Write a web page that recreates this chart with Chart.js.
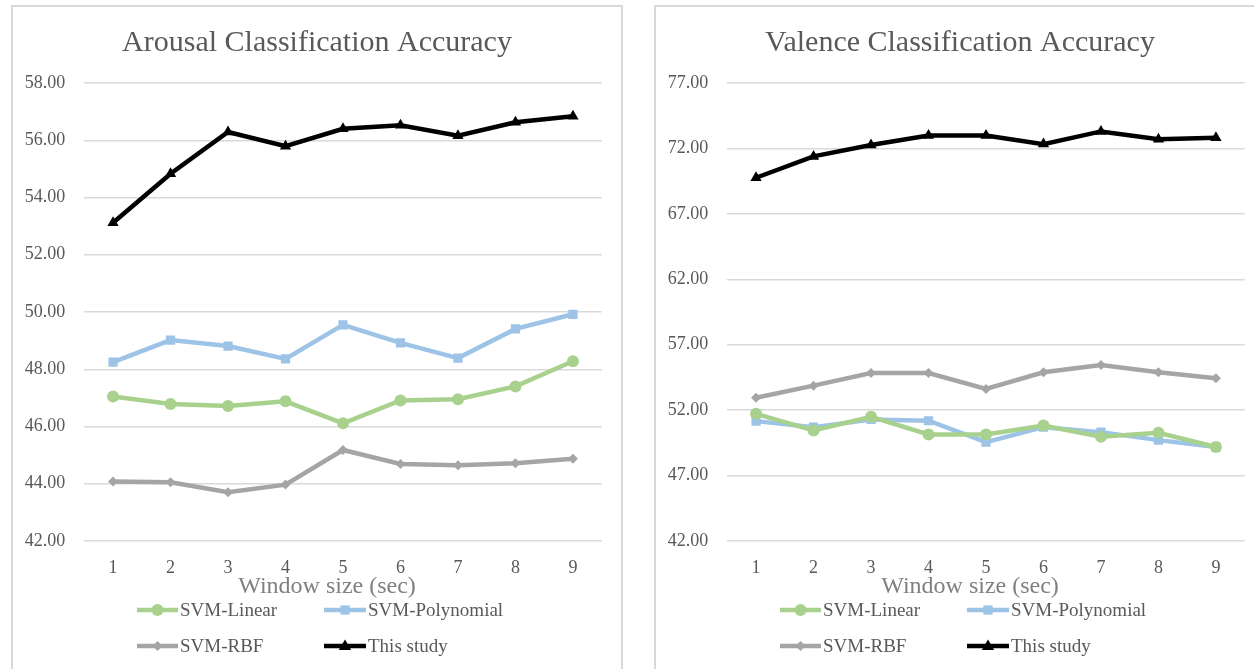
<!DOCTYPE html>
<html>
<head>
<meta charset="utf-8">
<script src="https://cdn.jsdelivr.net/npm/chart.js@4/dist/chart.umd.min.js"></script>
<style>
  html, body { margin: 0; padding: 0; background: #ffffff; overflow: hidden; }
  .panel { position: absolute; top: 5px; width: 608px; height: 700px; border: 2px solid #d9d9d9; background: #fff; }
  #p1 { left: 11px; }
  #p2 { left: 654px; }
  canvas { display: block; }
</style>
</head>
<body>
<div class="panel" id="p1"><canvas id="c1" width="608" height="662"></canvas></div>
<div class="panel" id="p2"><canvas id="c2" width="608" height="662"></canvas></div>
<script>
// ---- data ----
const windowSizes = ['1', '2', '3', '4', '5', '6', '7', '8', '9'];
const seriesNames = ['SVM-Linear', 'SVM-Polynomial', 'SVM-RBF', 'This study'];
const xAxisTitle = 'Window size (sec)';

const arousalLinear = [47.05, 46.79, 46.72, 46.88, 46.11, 46.91, 46.95, 47.40, 48.28];
const arousalPoly   = [48.25, 49.02, 48.81, 48.36, 49.55, 48.92, 48.39, 49.41, 49.92];
const arousalRBF    = [44.08, 44.05, 43.70, 43.97, 45.18, 44.69, 44.65, 44.72, 44.87];
const arousalThis   = [53.12, 54.83, 56.29, 55.79, 56.40, 56.52, 56.16, 56.63, 56.84];
const arousalYTicks = [42, 44, 46, 48, 50, 52, 54, 56, 58];

const valenceLinear = [51.72, 50.45, 51.49, 50.14, 50.14, 50.83, 49.97, 50.27, 49.18];
const valencePoly   = [51.16, 50.70, 51.29, 51.19, 49.56, 50.70, 50.32, 49.71, 49.18];
const valenceRBF    = [52.95, 53.87, 54.84, 54.84, 53.62, 54.89, 55.45, 54.89, 54.43];
const valenceThis   = [69.76, 71.39, 72.26, 72.99, 72.99, 72.33, 73.30, 72.71, 72.82];
const valenceYTicks = [42, 47, 52, 57, 62, 67, 72, 77];

// ---- styles ----
const FONT = "'Liberation Serif', 'DejaVu Serif', serif";
const seriesStyles = [
  { color: '#a9d18e', pointStyle: 'circle',   radius: 6,   width: 4.5 },
  { color: '#9dc3e6', pointStyle: 'rect',     radius: 6.5, width: 4.5 },
  { color: '#a5a5a5', pointStyle: 'rectRot',  radius: 5,   width: 4.5 },
  { color: '#000000', pointStyle: 'triangle', radius: 6.5, width: 4.5 }
];

function drawMarker(ctx, style, x, y) {
  ctx.save();
  ctx.fillStyle = style.color;
  ctx.beginPath();
  const r = style.radius;
  if (style.pointStyle === 'circle') {
    ctx.arc(x, y, r, 0, Math.PI * 2);
  } else if (style.pointStyle === 'rect') {
    const s = r * Math.SQRT1_2;
    ctx.rect(x - s, y - s, 2 * s, 2 * s);
  } else if (style.pointStyle === 'rectRot') {
    ctx.moveTo(x, y - r); ctx.lineTo(x + r, y); ctx.lineTo(x, y + r); ctx.lineTo(x - r, y);
    ctx.closePath();
  } else {
    ctx.moveTo(x, y - r); ctx.lineTo(x + r * 0.95, y + r * 0.6); ctx.lineTo(x - r * 0.95, y + r * 0.6);
    ctx.closePath();
  }
  ctx.fill();
  ctx.restore();
}

const titleAndLegend = {
  id: 'titleAndLegend',
  afterDraw(chart, args, opts) {
    const ctx = chart.ctx;
    // chart title, centred on the whole panel
    ctx.save();
    ctx.fillStyle = '#595959';
    ctx.font = '30px ' + FONT;
    ctx.textAlign = 'center';
    ctx.textBaseline = 'alphabetic';
    ctx.fillText(opts.text, chart.width / 2, 44);
    ctx.restore();

    // x-axis title (placed as in the reference, slightly left of centre)
    ctx.save();
    ctx.fillStyle = '#808080';
    ctx.font = '24px ' + FONT;
    ctx.textAlign = 'center';
    ctx.textBaseline = 'middle';
    ctx.fillText(xAxisTitle, 314, 580);
    ctx.restore();

    const rows = [603, 639];
    const cols = [{ x1: 124, x2: 165 }, { x1: 311, x2: 353 }];
    chart.data.datasets.forEach((ds, i) => {
      const st = seriesStyles[i];
      const row = rows[Math.floor(i / 2)];
      const col = cols[i % 2];
      ctx.save();
      ctx.strokeStyle = st.color;
      ctx.lineWidth = st.width;
      ctx.beginPath();
      ctx.moveTo(col.x1, row);
      ctx.lineTo(col.x2, row);
      ctx.stroke();
      ctx.restore();
      drawMarker(ctx, st, (col.x1 + col.x2) / 2, row);
      ctx.save();
      ctx.fillStyle = '#595959';
      ctx.font = '19px ' + FONT;
      ctx.textAlign = 'left';
      ctx.textBaseline = 'middle';
      ctx.fillText(ds.label, col.x2 + 2, row + 1);
      ctx.restore();
    });
  }
};

function makeChart(id, title, values, yTicks) {
  const datasets = values.map((vals, i) => ({
    label: seriesNames[i],
    data: vals,
    borderColor: seriesStyles[i].color,
    backgroundColor: seriesStyles[i].color,
    borderWidth: seriesStyles[i].width,
    pointStyle: seriesStyles[i].pointStyle,
    pointRadius: seriesStyles[i].radius,
    pointBorderWidth: 0,
    tension: 0,
    fill: false
  }));
  return new Chart(document.getElementById(id), {
    type: 'line',
    data: { labels: windowSizes, datasets },
    options: {
      responsive: false,
      animation: false,
      layout: { padding: { left: 0, right: 19.3, top: 76, bottom: 50 } },
      plugins: {
        legend: { display: false },
        tooltip: { enabled: false },
        title: { display: false },
        titleAndLegend: { text: title }
      },
      scales: {
        x: {
          offset: true,
          grid: { display: false, drawTicks: false },
          border: { display: false },
          ticks: { color: '#595959', font: { family: FONT, size: 18 }, padding: 16, maxRotation: 0 },
          afterFit(scale) { scale.height = 78; }
        },
        y: {
          min: yTicks[0],
          max: yTicks[yTicks.length - 1],
          afterBuildTicks(scale) { scale.ticks = yTicks.map(v => ({ value: v })); },
          grid: { color: '#d9d9d9', lineWidth: 1.5, drawTicks: false },
          border: { display: false },
          ticks: {
            color: '#595959',
            font: { family: FONT, size: 18 },
            padding: 19,
            callback: v => Number(v).toFixed(2)
          },
          afterFit(scale) { scale.width = 71.3; }
        }
      }
    },
    plugins: [titleAndLegend]
  });
}

makeChart('c1', 'Arousal Classification Accuracy', [arousalLinear, arousalPoly, arousalRBF, arousalThis], arousalYTicks);
makeChart('c2', 'Valence Classification Accuracy', [valenceLinear, valencePoly, valenceRBF, valenceThis], valenceYTicks);
</script>
</body>
</html>
